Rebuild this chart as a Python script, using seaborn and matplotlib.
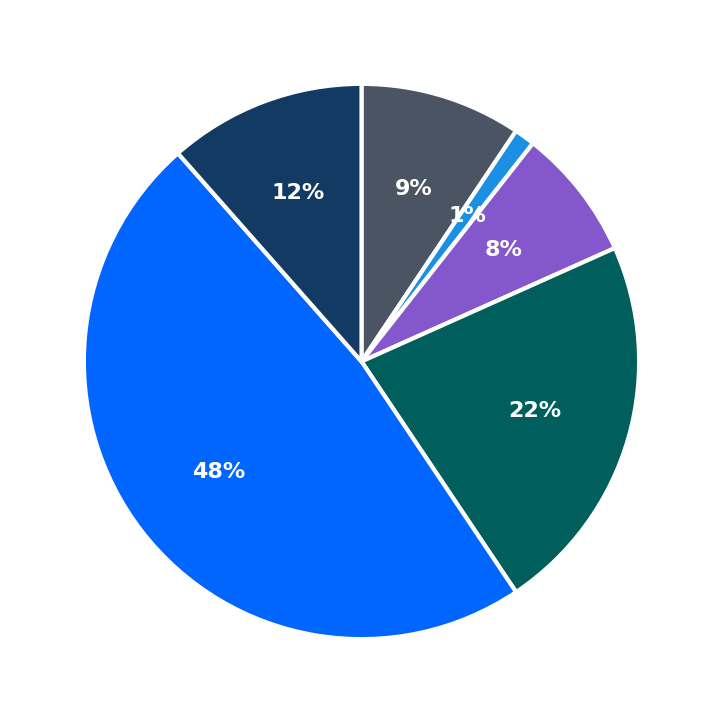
import matplotlib
matplotlib.use("Agg")
import matplotlib.pyplot as plt
import seaborn as sns

sns.set_theme(style="white")

categories = ["A", "B", "C", "D", "E", "F"]
shares = [9.4, 1.2, 7.7, 22.3, 47.9, 11.5]
colors = ["#4a5463", "#1a8fe3", "#8557cc", "#005f5c", "#0066ff", "#133a63"]

fig, ax = plt.subplots(figsize=(7.23, 7.23), dpi=100)
wedges, texts, autotexts = ax.pie(
    shares,
    colors=colors,
    startangle=90,
    counterclock=False,
    autopct="%.0f%%",
    pctdistance=0.65,
    radius=1.0,
    wedgeprops={"edgecolor": "white", "linewidth": 3},
    textprops={"color": "white", "fontsize": 16, "fontweight": "bold"},
)
ax.set_aspect("equal")
fig.subplots_adjust(left=0.02, right=0.98, bottom=0.02, top=0.98)
fig.savefig("out.png")
plt.close(fig)
